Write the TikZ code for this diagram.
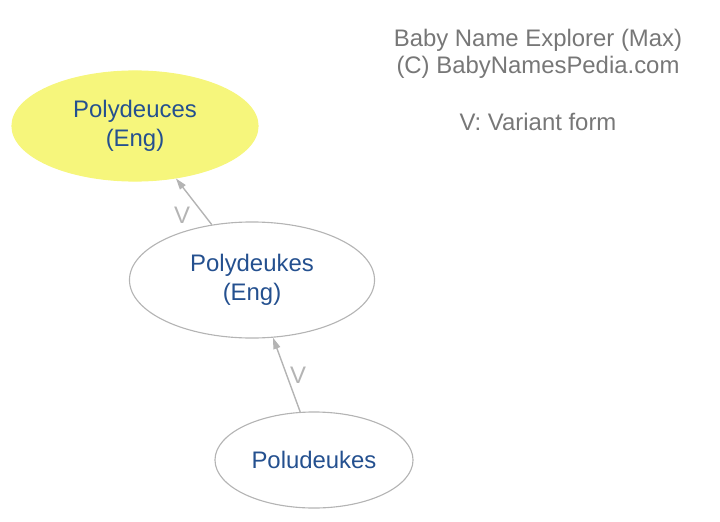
\documentclass[tikz,border=0pt]{standalone}
\usepackage{fontspec}
\setmainfont{Liberation Sans}
\usetikzlibrary{shapes.geometric,arrows.meta}
\definecolor{nameblue}{HTML}{24508F}
\definecolor{hilite}{HTML}{F6F67C}
\definecolor{edgegray}{HTML}{B4B4B4}
\definecolor{notegray}{HTML}{777777}
\begin{document}
\begin{tikzpicture}[x=0.025cm, y=0.025cm,
    namenode/.style={ellipse, draw=edgegray, line width=0.8pt, inner sep=0pt,
        text=nameblue, align=center, font=\fontsize{17}{21}\selectfont},
    variant/.style={draw=edgegray, line width=1pt, -{Triangle[length=8pt,width=5pt]}},
    vlabel/.style={text=edgegray, font=\fontsize{17}{21}\selectfont},
    note/.style={text=notegray, align=center, font=\fontsize{17}{19}\selectfont}]
    \useasboundingbox (0,0) rectangle (720,521);
    % names
    \node[namenode, fill=hilite, draw=hilite, minimum width=6.15cm, minimum height=2.75cm] (polydeuces) at (135,395) {Polydeuces\\(Eng)};
    \node[namenode, minimum width=6.125cm, minimum height=2.9cm] (polydeukes) at (252,241) {Polydeukes\\(Eng)};
    \node[namenode, minimum width=4.95cm, minimum height=2.4cm] (poludeukes) at (314,61) {Poludeukes};
    % variant links
    \draw[variant] (polydeukes.126) -- (polydeuces.-52);
    \draw[variant] (poludeukes.106) -- (polydeukes.-70);
    \node[vlabel] (vA) at (182,306) {V};
    \node[vlabel] (vB) at (298,146) {V};
    % legend
    \node[note] (title) at (538,467) {Baby Name Explorer (Max)\\(C) BabyNamesPedia.com};
    \node[note] (legend) at (538,399) {V: Variant form};
\end{tikzpicture}
\end{document}
